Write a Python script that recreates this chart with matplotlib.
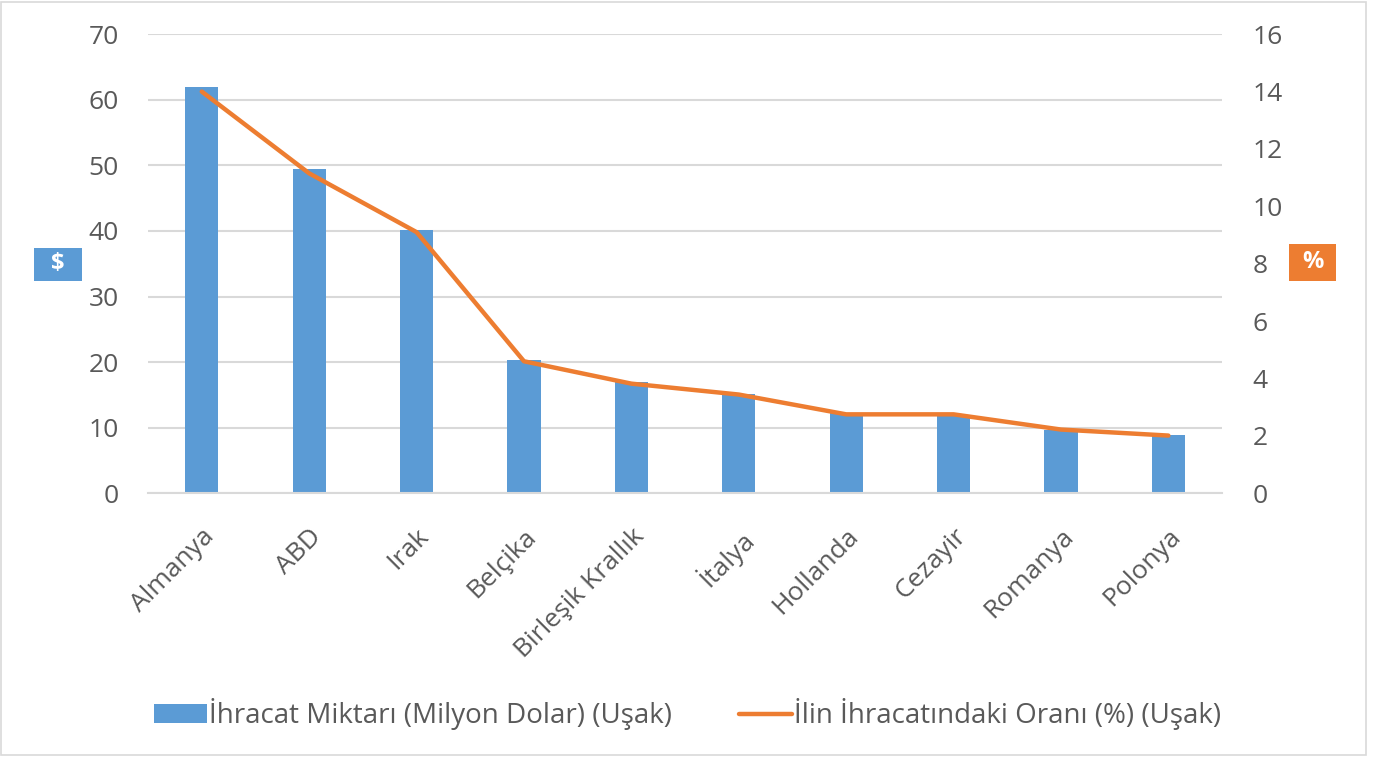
import matplotlib.pyplot as plt
from matplotlib.patches import Rectangle

countries = ["Almanya", "ABD", "Irak", "Belçika", "Birleşik Krallık", "İtalya",
             "Hollanda", "Cezayir", "Romanya", "Polonya"]
export_musd = [61.9, 49.4, 40.2, 20.3, 17.0, 15.1, 12.3, 11.8, 9.6, 8.9]
share_pct = [14.0, 11.15, 9.1, 4.6, 3.82, 3.44, 2.75, 2.75, 2.22, 2.01]

bar_label = "İhracat Miktarı (Milyon Dolar) (Uşak)"
line_label = "İlin İhracatındaki Oranı (%) (Uşak)"

blue = "#5B9BD5"
orange = "#ED7D31"
txt = "#595959"

plt.rcParams['font.family'] = ['Open Sans', 'DejaVu Sans']

fig = plt.figure(figsize=(13.84, 7.6), dpi=100)
ax = fig.add_axes([0.107, 0.351, 0.776, 0.604])
ax2 = ax.twinx()

x = range(len(countries))
bars = ax.bar(x, export_musd, width=0.31, color=blue, zorder=2, label=bar_label)
line, = ax2.plot(x, share_pct, color=orange, lw=3.2, solid_capstyle='round', zorder=3,
                 label=line_label)

ax.set_xlim(-0.5, len(countries) - 0.5)
ax.set_ylim(0, 70)
ax.set_yticks(range(0, 71, 10))
ax2.set_ylim(0, 16)
ax2.set_yticks(range(0, 17, 2))
ax.grid(axis='y', color='#d9d9d9', lw=1.5, zorder=0)
ax.set_axisbelow(True)
ax.set_zorder(ax2.get_zorder() - 1)
ax.patch.set_visible(False)

for a in (ax, ax2):
    for s in a.spines.values():
        s.set_visible(False)
    a.tick_params(length=0, labelsize=19, labelcolor=txt)
ax.tick_params(axis='y', pad=21)
ax2.tick_params(axis='y', pad=22)
ax.spines['bottom'].set_visible(True)
ax.spines['bottom'].set_color('#d9d9d9')
ax.spines['bottom'].set_linewidth(1.5)

ax.set_xticks(list(x))
ax.set_xticklabels(countries, rotation=45, ha='right', rotation_mode='anchor')
ax.tick_params(axis='x', pad=22)

# axis title boxes
fig.patches.append(Rectangle((0.0246, 0.6303), 0.0347, 0.0434, transform=fig.transFigure,
                             fc=blue, ec='none'))
fig.text(0.0246 + 0.0347 / 2, 0.6303 + 0.0434 / 2, "$", color='white', fontsize=17,
         fontweight='bold', ha='center', va='center')
fig.patches.append(Rectangle((0.9314, 0.6303), 0.034, 0.0487, transform=fig.transFigure,
                             fc=orange, ec='none'))
fig.text(0.9314 + 0.034 / 2, 0.6303 + 0.0487 / 2, "%", color='white', fontsize=17,
         fontweight='bold', ha='center', va='center')

fig.legend(handles=[bars, line], loc='center', bbox_to_anchor=(0.497, 0.06), ncol=2,
           frameon=False, fontsize=20, labelcolor=txt, handlelength=1.9,
           handletextpad=0.08, columnspacing=2.4)

fig.patches.append(Rectangle((0.001, 0.006), 0.986, 0.992, transform=fig.transFigure,
                             fill=False, ec='#d9d9d9', lw=1.2))

fig.savefig("out.png", dpi=100, facecolor='white')
